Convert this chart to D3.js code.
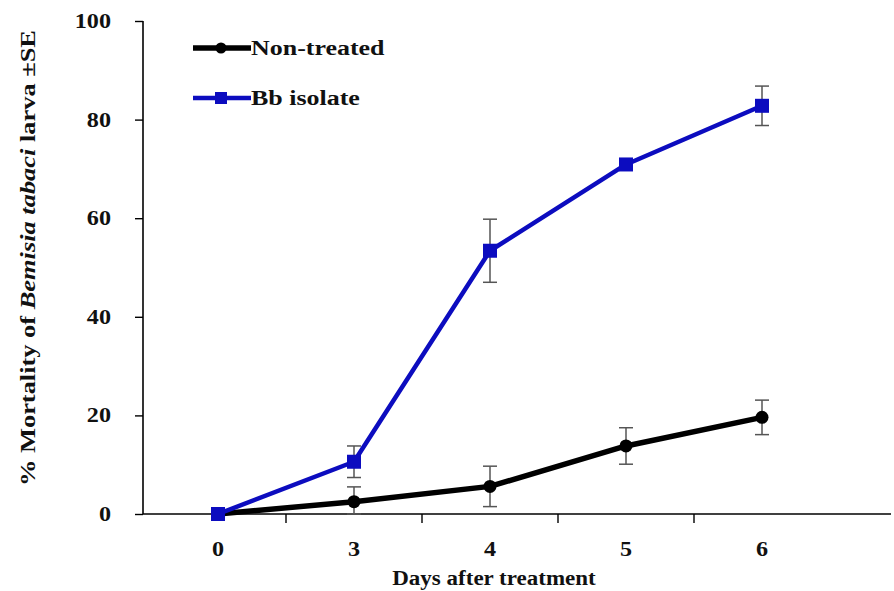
<!DOCTYPE html>
<html>
<head>
<meta charset="utf-8">
<script src="https://cdn.jsdelivr.net/npm/d3@7"></script>
<style>
  html, body { margin: 0; padding: 0; background: #fff; }
  svg { display: block; }
</style>
</head>
<body>
<svg id="chart" width="894" height="591"></svg>
<script>
// Days after treatment (categorical)
const days = ["0", "3", "4", "5", "6"];
// Mean % mortality and standard error per day
const nonTreated   = [0, 2.5, 5.6, 13.8, 19.6];
const nonTreatedSE = [0, 3.0, 4.1, 3.7, 3.5];
const bbIsolate    = [0, 10.6, 53.4, 70.9, 82.8];
const bbIsolateSE  = [0, 3.2, 6.4, 0.6, 4.0];
const yTicks = [0, 20, 40, 60, 80, 100];

const series = [
  { name: "Non-treated", values: nonTreated, se: nonTreatedSE, color: "#000000", width: 5.5, marker: "circle" },
  { name: "Bb isolate",  values: bbIsolate,  se: bbIsolateSE,  color: "#0c0cbf", width: 4.5, marker: "square" }
];

const FONT = "'Liberation Serif', 'Times New Roman', serif";
const svg = d3.select("#chart");
const axisLeftX = 143, axisRightX = 891, plotTop = 21, plotBottom = 514;

const x = d3.scaleBand().domain(days).range([150, 830]).padding(0);
const y = d3.scaleLinear().domain([0, 100]).range([plotBottom, plotTop]);
const cx = d => x(d) + x.bandwidth() / 2;

// Bold serif text, drawn slightly wide
function wideText(g, px, py, str, size, anchor, stretch = 1.15) {
  return g.append("text")
    .attr("transform", `translate(${px},${py}) scale(${stretch},1)`)
    .attr("text-anchor", anchor).attr("font-size", size)
    .style("font-family", FONT).style("font-weight", "bold").style("fill", "#111")
    .text(str);
}

// Y axis
const yAxis = svg.append("g").attr("transform", `translate(${axisLeftX},0)`)
  .call(d3.axisLeft(y).tickValues(yTicks).tickSize(8).tickFormat(""));
yAxis.select(".domain").attr("stroke", "#000").attr("stroke-width", 1.6).attr("d", `M0,${plotTop}V${plotBottom}`);
yAxis.selectAll(".tick line").attr("stroke", "#000").attr("stroke-width", 1.4);
const yLab = svg.append("g");
yTicks.forEach(t => wideText(yLab, 111, y(t) + 7, d3.format("d")(t), 21, "end"));

// X axis line, separator ticks between categories and labels
const xg = svg.append("g");
xg.append("line").attr("x1", axisLeftX).attr("x2", axisRightX)
  .attr("y1", plotBottom).attr("y2", plotBottom).attr("stroke", "#000").attr("stroke-width", 1.6);
xg.selectAll("line.sep").data(days.slice(0, -1)).join("line").attr("class", "sep")
  .attr("x1", d => x(d) + x.bandwidth()).attr("x2", d => x(d) + x.bandwidth())
  .attr("y1", plotBottom).attr("y2", plotBottom + 9).attr("stroke", "#000").attr("stroke-width", 1.4);
days.forEach(d => wideText(xg, cx(d), 556, d, 21, "middle"));

// Axis titles
wideText(svg, 494, 585, "Days after treatment", 20, "middle");
const yt = svg.append("text").attr("transform", "translate(35,258) rotate(-90)")
  .attr("text-anchor", "middle").attr("font-size", 21)
  .style("font-family", FONT).style("font-weight", "bold").style("fill", "#111")
  .attr("textLength", 456).attr("lengthAdjust", "spacingAndGlyphs");
yt.append("tspan").text("% Mortality  of ");
yt.append("tspan").style("font-style", "italic").text("Bemisia tabaci");
yt.append("tspan").text(" larva  \u00B1SE");

// Error bars
series.forEach(s => {
  const g = svg.append("g").attr("stroke", "#555").attr("stroke-width", 1.5);
  days.forEach((d, i) => {
    if (s.se[i] <= 0) return;
    const x0 = cx(d), y1 = y(s.values[i] + s.se[i]), y2 = y(Math.max(0, s.values[i] - s.se[i]));
    g.append("line").attr("x1", x0).attr("x2", x0).attr("y1", y1).attr("y2", y2);
    g.append("line").attr("x1", x0 - 7).attr("x2", x0 + 7).attr("y1", y1).attr("y2", y1);
    g.append("line").attr("x1", x0 - 7).attr("x2", x0 + 7).attr("y1", y2).attr("y2", y2);
  });
});

// Lines and markers
const line = d3.line().x((v, i) => cx(days[i])).y(v => y(v));
function drawMarker(g, type, color, px, py) {
  if (type === "circle") {
    g.append("circle").attr("cx", px).attr("cy", py).attr("r", 6.5).attr("fill", color);
  } else {
    g.append("rect").attr("x", px - 7).attr("y", py - 7).attr("width", 14).attr("height", 14).attr("fill", color);
  }
}
series.forEach(s => {
  svg.append("path").datum(s.values).attr("d", line).attr("fill", "none")
    .attr("stroke", s.color).attr("stroke-width", s.width).attr("stroke-linejoin", "round");
  const g = svg.append("g");
  s.values.forEach((v, i) => drawMarker(g, s.marker, s.color, cx(days[i]), y(v)));
});

// Legend
const legendY = [48, 98];
series.forEach((s, i) => {
  const g = svg.append("g");
  g.append("line").attr("x1", 193).attr("x2", 251).attr("y1", legendY[i]).attr("y2", legendY[i])
    .attr("stroke", s.color).attr("stroke-width", s.width);
  if (s.marker === "circle") {
    g.append("circle").attr("cx", 221).attr("cy", legendY[i]).attr("r", 5.5).attr("fill", s.color);
  } else {
    g.append("rect").attr("x", 215).attr("y", legendY[i] - 6).attr("width", 12).attr("height", 12).attr("fill", s.color);
  }
  wideText(g, 251, legendY[i] + 7, s.name, 22, "start", 1.18);
});
</script>
</body>
</html>
